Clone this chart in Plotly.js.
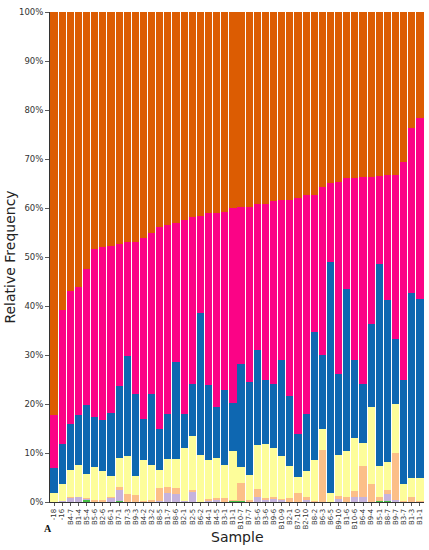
<!DOCTYPE html>
<html>
<head>
<meta charset="utf-8">
<script src="https://cdn.plot.ly/plotly-3.0.1.min.js"></script>
<style>html,body{margin:0;padding:0;background:#fff;}#chart{width:429px;height:550px;}</style>
</head>
<body>
<div id="chart"></div>
<script>
const samples = ["-18","-16","B4-7","B1-4","B5-4","B5-6","B2-6","B6-1","B7-1","B7-3",
  "B9-3","B4-2","B3-2","B8-5","B1-7","B8-6","B2-1","B2-5","B6-2","B4-1",
  "B4-5","B3-1","B1-1","B10-7","B7-7","B5-6","B3-6","B9-6","B10-9","B2-1",
  "B7-10","B2-10","B8-2","B6-3","B6-5","B9-10","B1-6","B10-6","B6-4","B9-4",
  "B5-1","B8-7","B9-7","B3-7","B1-3","B1-1"];

const green    = [0,0,0,0,0.5,0,0,0,0.2,0, 0,0,0,0,0,0,0,0,0,0, 0,0,0.3,0.2,0,0,0,0,0,0, 0,0,0,0,0,0,0,0,0,0, 0.2,0.3,0,0,0,0];
const lavender = [0,0.3,0.9,1.0,0.2,0.1,0.1,0.8,2.2,0.1, 0.1,0,0.1,0.3,1.8,1.6,0.2,2.1,0,0.3, 0.4,0.1,0,0,0,1.0,0.5,0.6,0.4,0, 0,0.4,0,0,0,0.7,0,1.1,1.0,0, 0.1,1.3,0.5,0,0,0];
const peach    = [0,0,0.1,0.1,0.1,0.3,0.4,0.2,0.7,1.5, 1.3,0.2,0.4,2.6,1.3,1.2,0.1,0.3,0.1,0.4, 0.5,0.8,0.1,3.7,0.5,1.7,0.4,0.4,0.3,0.9, 1.9,0.6,0.3,10.7,0,0.5,1.0,1.1,6.3,3.6, 0.7,0.8,9.6,0.2,1.1,0.3];
const yellow   = [1.8,3.3,5.5,6.4,5.0,6.7,5.8,4.4,5.9,7.7, 4.0,8.4,7.0,3.7,5.6,5.9,10.8,11.1,9.4,7.8, 8.1,6.6,10.0,3.3,5.1,8.9,11.0,10.0,8.6,6.4, 3.3,5.3,8.3,4.3,1.9,8.4,9.5,10.8,4.8,15.8, 6.3,5.8,10.0,3.5,3.7,4.7];
const blue     = [5.2,8.3,9.4,10.3,14.0,10.3,10.4,12.7,14.6,20.4, 16.7,8.4,14.5,8.2,9.2,19.9,6.8,10.5,29.0,15.4, 10.3,15.3,9.8,20.9,18.8,19.4,13.1,13.0,19.6,14.3, 8.6,11.6,26.0,15.0,47.1,16.5,33.0,15.9,12.0,16.9, 41.2,33.1,13.2,21.1,37.9,36.4];
const pink     = [10.8,27.3,27.2,26.1,27.8,34.3,35.4,34.1,29.0,23.4, 31.0,36.8,33.0,41.4,38.6,28.4,39.6,34.2,19.8,35.1, 39.7,36.3,39.7,32.1,35.9,29.8,35.9,37.4,32.7,40.0, 48.2,44.7,28.0,34.3,16.2,39.3,22.6,37.2,42.2,30.0, 18.0,25.4,33.5,44.5,33.7,37.0];
const orange   = [82.2,60.8,56.9,56.1,52.4,48.3,47.9,47.8,47.4,46.9, 46.9,46.2,45.0,43.8,43.5,43.0,42.5,41.8,41.7,41.0, 41.0,40.9,40.1,39.8,39.7,39.2,39.1,38.6,38.4,38.4, 38.0,37.4,37.4,35.7,34.8,34.6,33.9,33.9,33.7,33.7, 33.5,33.3,33.2,30.7,23.6,21.6];

const seriesNames = ["Green","Lavender","Peach","Yellow","Blue","Pink","Orange"];
const seriesValues = [green, lavender, peach, yellow, blue, pink, orange];
const seriesColors = ["#45c045","#c6b3dc","#fcbf88","#fdfd9a","#0e67b1","#fb0386","#dc5c02"];

const idx = samples.map((s, i) => i);
const traces = seriesValues.map((vals, k) => ({
  type: "bar",
  x: idx,
  y: vals,
  name: seriesNames[k],
  marker: {color: seriesColors[k], line: {width: 0}},
  hoverinfo: "skip"
}));

const layout = {
  width: 429, height: 550,
  barmode: "stack",
  bargap: 0.12,
  showlegend: false,
  paper_bgcolor: "#ffffff",
  plot_bgcolor: "#ffffff",
  margin: {l: 50, r: 5, t: 12, b: 48, pad: 0},
  font: {family: "DejaVu Sans, sans-serif", color: "#333333"},
  xaxis: {
    tickmode: "array",
    tickvals: idx,
    ticktext: samples,
    tickangle: -90,
    tickfont: {size: 7, color: "#333333"},
    ticks: "outside", ticklen: 3, tickwidth: 0.8, tickcolor: "#333333",
    range: [-0.5, samples.length - 0.5],
    showline: true, linecolor: "#333333", linewidth: 1,
    showgrid: false, zeroline: false, automargin: false,
    title: {text: ""}
  },
  yaxis: {
    range: [0, 100],
    dtick: 10,
    ticksuffix: "%",
    tickfont: {size: 8.5, color: "#333333"},
    ticks: "outside", ticklen: 4, tickwidth: 0.8, tickcolor: "#333333",
    showline: true, linecolor: "#333333", linewidth: 1,
    showgrid: false, zeroline: false, automargin: false,
    title: {text: ""}
  },
  annotations: [
    {text: "Relative Frequency", xref: "paper", yref: "paper", x: -0.108, y: 0.5,
     xanchor: "center", yanchor: "middle", textangle: -90, showarrow: false,
     font: {size: 14, color: "#222222", family: "DejaVu Sans, sans-serif"}},
    {text: "Sample", xref: "paper", yref: "paper", x: 0.5, y: -0.072,
     xanchor: "center", yanchor: "middle", showarrow: false,
     font: {size: 14, color: "#222222", family: "DejaVu Sans, sans-serif"}},
    {text: "<b>A</b>", xref: "paper", yref: "paper", x: -0.005, y: -0.055,
     xanchor: "center", yanchor: "middle", showarrow: false,
     font: {size: 10, color: "#111111", family: "Liberation Serif, serif"}}
  ]
};

Plotly.newPlot("chart", traces, layout, {displayModeBar: false, staticPlot: true});
</script>
</body>
</html>
